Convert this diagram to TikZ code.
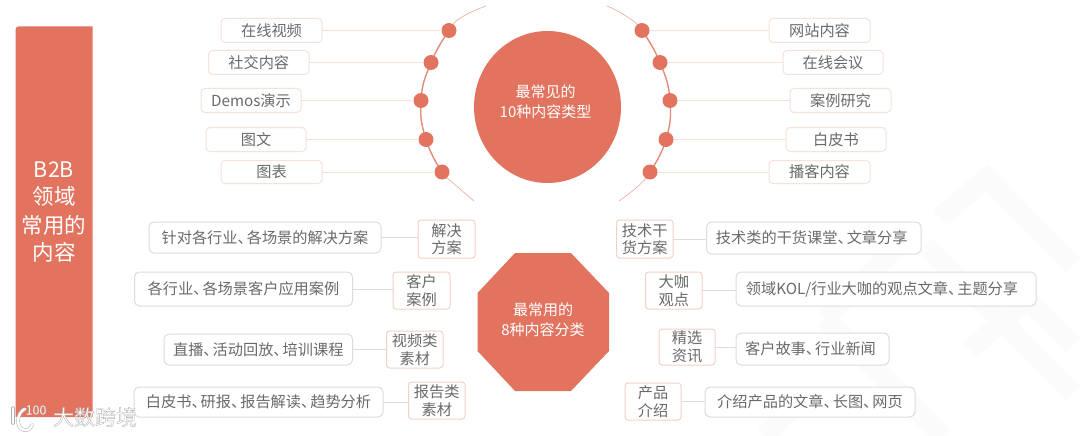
\documentclass[tikz,border=0pt]{standalone}
\usepackage{fontspec}
\setmainfont{Noto Sans CJK SC}
\usetikzlibrary{calc,shapes.geometric}
\definecolor{salmon}{HTML}{E2745F}
\definecolor{txt}{HTML}{6A6A6A}
\definecolor{peachline}{HTML}{F6E2DC}
\definecolor{peachbox}{HTML}{F1D2C7}
\definecolor{greyline}{HTML}{DCDCDC}
\definecolor{mark}{HTML}{FBFBFB}
\definecolor{wmline}{HTML}{B0B0B0}
\font\wmbig="Noto Sans CJK SC:embolden=1.6" at 21pt
\font\wmsmall="Noto Sans CJK SC:embolden=1.2" at 12.5pt
\newcommand{\dn}{、\kern-6pt\relax}
\tikzset{
  x=1pt,y=-1pt,
  every node/.style={font=\fontsize{15.2}{17.5}\selectfont,text=txt,align=center,inner sep=0pt,outer sep=0pt},
  tbox/.style={draw=peachline,fill=white,line width=1pt,rounded corners=4pt},
  gbox/.style={draw=greyline,fill=white,line width=1pt,rounded corners=5pt},
  pbox/.style={draw=peachbox,fill=white,line width=1pt,rounded corners=3pt},
  dot/.style={circle,fill=salmon,minimum size=15pt},
  tlink/.style={draw=peachline,line width=1pt},
  glink/.style={draw=greyline,line width=1pt},
  hubtext/.style={text=white,font=\fontsize{15}{20}\selectfont},
  wmstroke/.style={draw=wmline,double=white,double distance=2.6pt,line width=.5pt,line cap=round},
}
\newcommand{\bx}[7]{\node[#6,minimum width={(#4-#2)*1pt},minimum height={(#5-#3)*1pt}] (#1) at ({(#2+#4)/2},{(#3+#5)/2}) {#7};}
\begin{document}
\begin{tikzpicture}
\useasboundingbox (0,0) rectangle (1080,436);
\fill[white] (0,0) rectangle (1080,436);
% faint background mark
\begin{scope}[draw=mark,line width=20pt,line join=miter]
\draw (940,218) -- (987,178) -- (1073,265);
\draw (825,318) -- (905,240);
\draw (825,318) -- (943,436);
\draw (925,245) -- (1073,393);
\draw (970,350) -- (1027,300) -- (1073,345);
\draw (765,436) -- (800,400);
\end{scope}
% sidebar
\path[fill=salmon,rounded corners=3pt] (15.5,417) -- (15.5,26.5) [sharp corners] -- (92.5,26.5) -- (92.5,417) -- cycle;
\node[text=white,font=\fontsize{21.5}{28}\selectfont] (side) at (54,212) {B2B\\领域\\常用的\\内容};
% arcs
\coordinate (la) at (486,6); \coordinate (lam) at (462,17); \coordinate (lbm) at (452,182); \coordinate (lb) at (474,201);
\coordinate (ra) at (607,6); \coordinate (ram) at (626,16); \coordinate (rbm) at (637,187); \coordinate (rb) at (619,201);
% top boxes
\bx{a1}{221}{18.5}{322}{42.5}{tbox}{在线视频}
\bx{a2}{208.5}{50.5}{309}{74.5}{tbox}{社交内容}
\bx{a3}{201}{88.5}{301}{112.5}{tbox}{Demos演示}
\bx{a4}{206}{127.5}{306}{151.5}{tbox}{图文}
\bx{a5}{221}{160.5}{322}{183.5}{tbox}{图表}
\bx{b1}{769}{18.5}{870}{42.5}{tbox}{网站内容}
\bx{b2}{783}{50.5}{883}{74.5}{tbox}{在线会议}
\bx{b3}{790}{88.5}{891}{112.5}{tbox}{案例研究}
\bx{b4}{786}{127.5}{886}{151.5}{tbox}{白皮书}
\bx{b5}{769}{160.5}{870}{183.5}{tbox}{播客内容}
\coordinate (p1) at (449,30.5); \coordinate (p2) at (431,62.5); \coordinate (p3) at (421,100.5); \coordinate (p4) at (426,139.5); \coordinate (p5) at (442,172);
\coordinate (q1) at (642,30.5); \coordinate (q2) at (660,62.5); \coordinate (q3) at (670,100.5); \coordinate (q4) at (666,139.5); \coordinate (q5) at (650,172);
\draw[salmon!55,line width=.7pt] plot[smooth,tension=.8] coordinates {(la) (lam) (p1) (p2) (p3) (p4) (p5) (lbm) (lb)};
\draw[salmon!55,line width=.7pt] plot[smooth,tension=.8] coordinates {(ra) (ram) (q1) (q2) (q3) (q4) (q5) (rbm) (rb)};
\draw[salmon!85,line width=1.3pt] plot[smooth,tension=.8] coordinates {(p1) (p2) (p3) (p4) (p5)};
\draw[salmon!85,line width=1.3pt] plot[smooth,tension=.8] coordinates {(q1) (q2) (q3) (q4) (q5)};
\foreach \i in {1,...,5}{
  \node[dot] (dl\i) at (p\i) {};
  \node[dot] (dr\i) at (q\i) {};
  \draw[tlink] (a\i.east) -- (dl\i.west);
  \draw[tlink] (dr\i.east) -- (b\i.west);
}
% hubs
\node[ellipse,fill=salmon,minimum width=147pt,minimum height=152pt] (c0) at (547.5,107) {};
\node[hubtext] (c1) at (545.5,101.5) {最常见的\\10种内容类型};
\fill[salmon] (515,253) -- (571,253) -- (609,293) -- (609,351) -- (571,391) -- (515,391) -- (477.5,351) -- (477.5,293) -- cycle;
\node[hubtext] (c2) at (543,320) {最常用的\\8种内容分类};
% lower left
\bx{l1}{149}{222}{381}{253}{gbox}{针对各行业\dn 各场景的解决方案}
\bx{m1}{418}{220}{475}{258}{pbox}{解决\\方案}
\bx{l2}{134.5}{272}{352.5}{306}{gbox}{各行业\dn 各场景客户应用案例}
\bx{m2}{393}{272}{450}{309}{pbox}{客户\\案例}
\bx{l3}{164}{334}{352.5}{365}{gbox}{直播\dn 活动回放\dn 培训课程}
\bx{m3}{386.5}{331}{443}{368}{pbox}{视频类\\素材}
\bx{l4}{134}{387}{383}{417}{gbox}{白皮书\dn 研报\dn 报告解读\dn 趋势分析}
\bx{m4}{408.5}{382}{465}{419}{pbox}{报告类\\素材}
% lower right
\bx{n1}{616.5}{220}{673}{258}{pbox}{技术干\\货方案}
\bx{r1}{706.5}{222}{921}{254}{gbox}{技术类的干货课堂\dn 文章分享\kern4pt}
\bx{n2}{645.5}{272}{702}{309}{pbox}{大咖\\观点}
\bx{r2}{736}{272}{1036}{306}{gbox}{领域KOL/行业大咖的观点文章\dn 主题分享\kern8pt}
\bx{n3}{659}{329}{715}{365}{pbox}{精选\\资讯}
\bx{r3}{736}{333}{889}{365}{gbox}{客户故事\dn 行业新闻\kern4pt}
\bx{n4}{625}{383}{681}{420}{pbox}{产品\\介绍}
\bx{r4}{705}{387}{915}{417}{gbox}{介绍产品的文章\dn 长图\dn 网页}
\foreach \i in {1,...,4}{
  \draw[glink] (l\i.east) -- (l\i.east -| m\i.west);
  \draw[glink] (n\i.east) -- (n\i.east -| r\i.west);
}
% watermark
\draw[wmstroke] (13,408) -- (13,423);
\draw[wmstroke] (25,409) .. controls (17,412) and (15,428) .. (24,430) .. controls (28,431) and (31,428) .. (32,425);
\node[text=white,font=\wmsmall,anchor=center] (wa) at (36,410) {\special{pdf:code 0.69 G}100};
\node[text=white,font=\wmbig,anchor=west] (wb) at (53,417) {\special{pdf:code 0.69 G}大数跨境};
\end{tikzpicture}
\end{document}
